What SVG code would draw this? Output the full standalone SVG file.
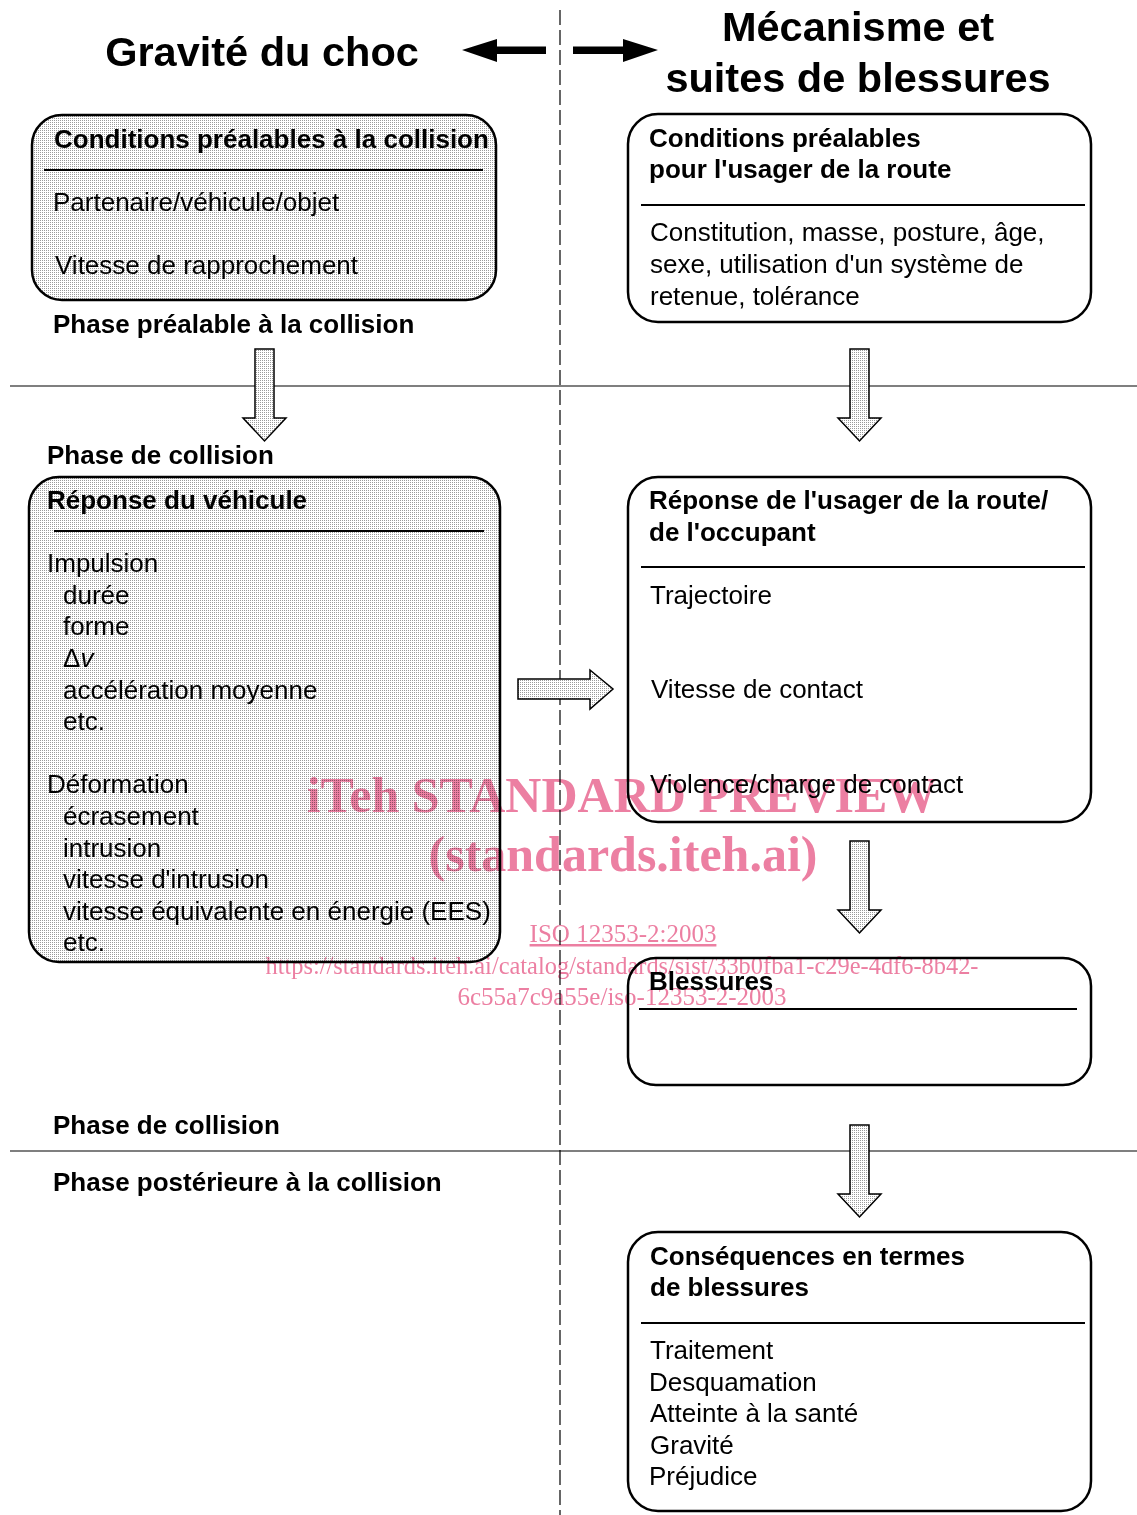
<svg xmlns="http://www.w3.org/2000/svg" width="1137" height="1515" viewBox="0 0 1137 1515">
<defs>
<pattern id="dots" width="2" height="2" patternUnits="userSpaceOnUse">
<rect width="2" height="2" fill="#ffffff"/>
<rect width="1" height="1" fill="#9a9a9a"/>
</pattern>
</defs>
<style>
text{font-family:"Liberation Sans",Arial,sans-serif;fill:#000}
.t{font-size:41.5px;font-weight:bold;text-anchor:middle}
.h{font-size:26px;font-weight:bold}
.b{font-size:26px}
.box{stroke:#000;stroke-width:2.5;fill:#fff}
.shade{fill:url(#dots)}
.div{stroke:#000;stroke-width:2.2}
.rule{stroke:#000;stroke-width:1.2}
.harrow{fill:url(#dots);stroke:#000;stroke-width:1.5}
.wm{font-family:"Liberation Serif","Times New Roman",serif;fill:#ec7fa2}
#watermark{mix-blend-mode:multiply}
</style>
<rect width="1137" height="1515" fill="#fff"/>

<g id="guides">
<line x1="10" y1="386" x2="1137" y2="386" class="rule"/>
<line x1="10" y1="1151" x2="1137" y2="1151" class="rule"/>
<line x1="560" y1="10" x2="560" y2="1515" stroke="#000" stroke-width="1.2" stroke-dasharray="15 5"/>
</g>

<g id="titles">
<text x="262" y="66" class="t">Gravité du choc</text>
<text x="858" y="41" class="t">Mécanisme et</text>
<text x="858" y="92" class="t">suites de blessures</text>
<text x="53" y="333" class="h">Phase préalable à la collision</text>
<text x="47" y="464" class="h">Phase de collision</text>
<text x="53" y="1134" class="h">Phase de collision</text>
<text x="53" y="1191" class="h">Phase postérieure à la collision</text>
</g>

<g id="node-conditions-collision">
<rect x="32" y="115" width="464" height="185" rx="30" class="box shade"/>
<text x="54" y="148" class="h">Conditions préalables à la collision</text>
<line x1="44" y1="170" x2="483" y2="170" class="div"/>
<text x="53" y="211" class="b">Partenaire/véhicule/objet</text>
<text x="55" y="274" class="b">Vitesse de rapprochement</text>
</g>

<g id="node-conditions-usager">
<rect x="628" y="114" width="463" height="208" rx="30" class="box"/>
<text x="649" y="147" class="h">Conditions préalables</text>
<text x="649" y="178" class="h">pour l'usager de la route</text>
<line x1="641" y1="205" x2="1085" y2="205" class="div"/>
<text x="650" y="241" class="b">Constitution, masse, posture, âge,</text>
<text x="650" y="273" class="b">sexe, utilisation d'un système de</text>
<text x="650" y="305" class="b">retenue, tolérance</text>
</g>

<g id="node-reponse-vehicule">
<rect x="29" y="477" width="471" height="485" rx="30" class="box shade"/>
<text x="47" y="509" class="h">Réponse du véhicule</text>
<line x1="54" y1="531" x2="484" y2="531" class="div"/>
<text x="47" y="572" class="b">Impulsion</text>
<text x="63" y="604" class="b">durée</text>
<text x="63" y="635" class="b">forme</text>
<text x="63" y="667" class="b">Δ<tspan font-style="italic">v</tspan></text>
<text x="63" y="699" class="b">accélération moyenne</text>
<text x="63" y="730" class="b">etc.</text>
<text x="47" y="793" class="b">Déformation</text>
<text x="63" y="825" class="b">écrasement</text>
<text x="63" y="857" class="b">intrusion</text>
<text x="63" y="888" class="b">vitesse d'intrusion</text>
<text x="63" y="920" class="b">vitesse équivalente en énergie (EES)</text>
<text x="63" y="951" class="b">etc.</text>
</g>

<g id="node-reponse-usager">
<rect x="628" y="477" width="463" height="345" rx="30" class="box"/>
<text x="649" y="509" class="h">Réponse de l'usager de la route/</text>
<text x="649" y="541" class="h">de l'occupant</text>
<line x1="641" y1="567" x2="1085" y2="567" class="div"/>
<text x="650" y="604" class="b">Trajectoire</text>
<text x="651" y="698" class="b">Vitesse de contact</text>
<text x="650" y="793" class="b">Violence/charge de contact</text>
</g>

<g id="node-blessures">
<rect x="628" y="958" width="463" height="127" rx="28" class="box"/>
<text x="649" y="990" class="h">Blessures</text>
<line x1="639" y1="1009" x2="1077" y2="1009" class="div"/>
</g>

<g id="node-consequences">
<rect x="628" y="1232" width="463" height="279" rx="30" class="box"/>
<text x="650" y="1265" class="h">Conséquences en termes</text>
<text x="650" y="1296" class="h">de blessures</text>
<line x1="641" y1="1323" x2="1085" y2="1323" class="div"/>
<text x="650" y="1359" class="b">Traitement</text>
<text x="649" y="1391" class="b">Desquamation</text>
<text x="650" y="1422" class="b">Atteinte à la santé</text>
<text x="650" y="1454" class="b">Gravité</text>
<text x="649" y="1485" class="b">Préjudice</text>
</g>

<g id="connectors">
<polygon points="462,50 497,39 497,46.5 546,46.5 546,54 497,54 497,62" fill="#000"/>
<polygon points="658,50 623,39 623,46.5 573,46.5 573,54 623,54 623,62" fill="#000"/>
<polygon points="255,349 274,349 274,418 286,418 264.5,441 243,418 255,418" class="harrow"/>
<polygon points="850,349 869,349 869,418 881,418 859.5,441 838,418 850,418" class="harrow"/>
<polygon points="850,841 869,841 869,910 881,910 859.5,933 838,910 850,910" class="harrow"/>
<polygon points="850,1125 869,1125 869,1194 881,1194 859.5,1217 838,1194 850,1194" class="harrow"/>
<polygon points="518,679 590,679 590,670 613,689 590,709 590,699 518,699" class="harrow"/>
</g>

<g id="watermark">
<text x="622" y="812" class="wm" font-size="50" font-weight="bold" text-anchor="middle">iTeh STANDARD PREVIEW</text>
<text x="623" y="871" class="wm" font-size="50" font-weight="bold" text-anchor="middle">(standards.iteh.ai)</text>
<text x="623" y="942" class="wm" font-size="25" text-anchor="middle" text-decoration="underline">ISO 12353-2:2003</text>
<text x="622" y="974" class="wm" font-size="25" text-anchor="middle" textLength="713" lengthAdjust="spacingAndGlyphs">https://standards.iteh.ai/catalog/standards/sist/33b0fba1-c29e-4df6-8b42-</text>
<text x="622" y="1005" class="wm" font-size="25" text-anchor="middle">6c55a7c9a55e/iso-12353-2-2003</text>
</g>
</svg>
